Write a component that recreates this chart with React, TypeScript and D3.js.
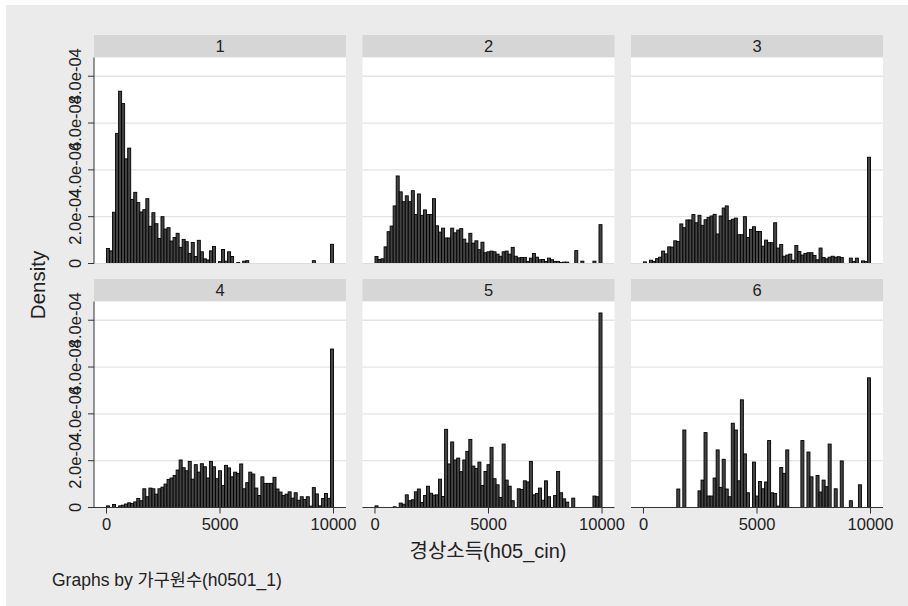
import React from "react";
import * as d3 from "d3";

// ---- data (density in units of 1e-4), 75 equal bins over 0..10000 ----
const panelLabels = ["1", "2", "3", "4", "5", "6"];
const binCount = 75;
const xMinVal = 0;
const xMaxVal = 10000;

const dens1 = [
  0.64, 0.54, 2.19, 5.56, 7.36, 6.83, 4.47, 4.93, 2.74, 3.04,
  2.6, 2.2, 2.3, 2.77, 1.59, 2.17, 1.7, 1.07, 2.0, 1.47,
  1.53, 0.96, 1.11, 1.29, 0.69, 1.03, 0.93, 0.43, 0.9, 0.3,
  0.99, 0.5, 0.2, 0.15, 0.54, 0.73, 0, 0.08, 0.6, 0.1,
  0.5, 0.3, 0, 0.04, 0, 0.1, 0.12, 0, 0, 0,
  0, 0, 0, 0, 0, 0, 0, 0, 0, 0,
  0, 0, 0, 0, 0, 0, 0, 0, 0.12, 0,
  0, 0, 0, 0, 0.82,
];
const dens2 = [
  0.3, 0.17, 0.2, 0.71, 1.36, 1.6, 2.46, 3.74, 3.06, 2.64,
  2.89, 2.64, 3.11, 2.09, 2.97, 2.06, 2.29, 2.09, 2.09, 2.77,
  1.61, 1.34, 1.51, 1.09, 1.09, 1.51, 1.31, 1.43, 1.49, 1.04,
  0.87, 1.29, 0.87, 0.97, 0.59, 0.91, 0.46, 0.5, 0.53, 0.5,
  0.4, 0.31, 0.5, 0.53, 0.4, 0.69, 0.31, 0.24, 0.26, 0.26,
  0.09, 0.23, 0.43, 0.27, 0.16, 0.17, 0.09, 0.23, 0.16, 0.09,
  0.09, 0.04, 0.06, 0.06, 0, 0, 0.55, 0, 0.1, 0,
  0, 0, 0.1, 0, 1.66,
];
const dens3 = [
  0.07, 0, 0.14, 0.09, 0.21, 0.27, 0.53, 0.41, 0.71, 0.7,
  0.97, 0.94, 1.69, 1.53, 1.86, 1.86, 2.09, 1.74, 2.06, 1.63,
  1.87, 1.97, 2.03, 2.1, 1.26, 2.03, 2.37, 2.46, 1.83, 1.89,
  1.94, 1.23, 1.23, 2.0, 1.11, 1.46, 1.57, 1.37, 1.37, 0.74,
  1.0, 0.89, 0.89, 1.74, 0.66, 0.81, 0.31, 0.36, 0.4, 0.14,
  0.77, 0.51, 0.36, 0.43, 0.46, 0.46, 0.34, 0.16, 0.66, 0.26,
  0.2, 0.27, 0.31, 0.27, 0.29, 0.26, 0, 0, 0.23, 0.09,
  0.23, 0, 0.11, 0.09, 4.54,
];
const dens4 = [
  0.07, 0, 0.13, 0, 0.07, 0.1, 0.15, 0.2, 0.17, 0.24,
  0.39, 0.29, 0.8, 0.46, 0.83, 0.8, 0.57, 0.8, 0.87, 1.0,
  1.2, 1.26, 1.37, 1.6, 2.03, 1.7, 1.57, 1.97, 1.21, 1.83,
  1.51, 1.87, 1.74, 1.26, 1.97, 1.74, 1.23, 1.57, 0.94, 1.8,
  1.69, 1.31, 1.51, 1.46, 1.86, 0.8, 1.06, 1.51, 1.43, 0.83,
  0.51, 1.31, 1.03, 1.03, 1.03, 1.29, 0.79, 0.66, 0.51, 0.57,
  0.67, 0.4, 0.63, 0.31, 0.46, 0.34, 0.46, 0.06, 0.85, 0.58,
  0.07, 0.38, 0.6, 0.39, 6.77,
];
const dens5 = [
  0.07, 0, 0, 0, 0, 0, 0.03, 0, 0.19, 0.14,
  0.54, 0.29, 0.33, 0.67, 0.79, 0.21, 0.51, 0.91, 0.61, 0.53,
  0.54, 1.21, 0.47, 3.34, 1.86, 2.8, 2.03, 2.11, 1.53, 2.03,
  2.4, 2.91, 1.77, 1.67, 1.94, 0.94, 1.54, 1.83, 2.57, 1.23,
  0.97, 0.43, 2.71, 1.17, 0.91, 0.29, 0, 0.8, 0.77, 1.14,
  1.09, 1.97, 0.54, 0.6, 0.83, 0.31, 1.14, 0.46, 0, 0.51,
  1.54, 0.63, 0.37, 0.23, 0, 0.4, 0, 0, 0, 0,
  0, 0, 0.49, 0.46, 8.31,
];
const dens6 = [
  0, 0, 0, 0, 0, 0, 0, 0, 0, 0,
  0, 0.79, 0, 3.31, 0, 0, 0, 0, 0.71, 1.17,
  3.2, 0.49, 0.49, 1.26, 2.46, 0.86, 2.06, 0.79, 0.46, 3.6,
  3.31, 1.14, 4.6, 2.29, 0.63, 0, 1.94, 0.49, 1.11, 0.8,
  1.09, 2.86, 0.63, 0.6, 0.06, 1.71, 1.46, 2.46, 0, 0,
  0, 0, 2.86, 0, 2.37, 1.31, 0, 1.37, 0.66, 1.17,
  0.89, 2.71, 0, 0.8, 0, 1.99, 0, 0, 0.29, 0,
  0, 0.97, 0, 0, 5.54,
];
const densities = [dens1, dens2, dens3, dens4, dens5, dens6];
const densUnit = 1e-4;

const yTicks = [0, 2e-4, 4e-4, 6e-4, 8e-4];
const yTickLabels = ["0", "2.0e-04", "4.0e-04", "6.0e-04", "8.0e-04"];
const xTicks = [0, 5000, 10000];
const xTickLabels = ["0", "5000", "10000"];

const yTitle = "Density";
const xTitle = "경상소득(h05_cin)";
const note = "Graphs by 가구원수(h0501_1)";

// ---- layout ----
const W = 908;
const H = 606;
const colX = [94, 362.5, 631];
const rowTop = [35, 279];
const panelW = 252;
const stripH = 22.5;
const plotH = 206;
const FONT = "'Liberation Sans', Arial, 'Noto Sans CJK KR', sans-serif";

export default function App() {
  const x = d3.scaleLinear().domain([-550, 10550]).range([0, panelW]);
  const y = d3.scaleLinear().domain([0, 8.8e-4]).range([plotH, 0]);
  const binW = (xMaxVal - xMinVal) / binCount;

  return (
    <svg
      width={W}
      height={H}
      style={{ position: "absolute", left: 0, top: 0, display: "block" }}
      fontFamily={FONT}
    >
      <rect x={0} y={0} width={W} height={H} fill="#ffffff" />
      <rect x={6} y={5} width={W - 6} height={H - 5} fill="#ebebeb" />
      {panelLabels.map((lab, p) => {
        const r = Math.floor(p / 3);
        const c = p % 3;
        const px = colX[c];
        const sy = rowTop[r];
        const py = sy + stripH;
        const vals = densities[p];
        return (
          <g key={lab}>
            <rect x={px} y={sy} width={panelW} height={stripH} fill="#d6d6d6" />
            <text
              x={px + panelW / 2}
              y={sy + stripH / 2 + 6}
              textAnchor="middle"
              fontSize={16.5}
              fill="#222"
            >
              {lab}
            </text>
            <g transform={`translate(${px},${py})`}>
              <rect x={0} y={0} width={panelW} height={plotH} fill="#ffffff" />
              {yTicks.slice(1).map((t) => (
                <line
                  key={t}
                  x1={0}
                  x2={panelW}
                  y1={y(t)}
                  y2={y(t)}
                  stroke="#e4e4e4"
                  strokeWidth={1.3}
                />
              ))}
              {vals.map((v, i) =>
                v > 0 ? (
                  <rect
                    key={i}
                    x={x(xMinVal + i * binW)}
                    y={y(v * densUnit)}
                    width={x(xMinVal + (i + 1) * binW) - x(xMinVal + i * binW)}
                    height={plotH - y(v * densUnit)}
                    fill="#444444"
                    stroke="#000000"
                    strokeWidth={0.9}
                  />
                ) : null
              )}
              <line
                x1={0}
                x2={panelW}
                y1={plotH}
                y2={plotH}
                stroke={r === 1 ? "#333" : "#dcdcdc"}
                strokeWidth={1}
              />
              {r === 1 &&
                xTicks.map((t, k) => (
                  <g key={t} transform={`translate(${x(t)},${plotH})`}>
                    <line y1={0} y2={6} stroke="#333" />
                    <text y={22.5} textAnchor="middle" fontSize={16.5} fill="#222">
                      {xTickLabels[k]}
                    </text>
                  </g>
                ))}
              {c === 0 && (
                <g>
                  <line x1={0} x2={0} y1={0} y2={plotH} stroke="#333" />
                  {yTicks.map((t, k) => (
                    <g key={t} transform={`translate(0,${y(t)})`}>
                      <line x1={-6} x2={0} stroke="#333" />
                      <text
                        transform="translate(-13,0) rotate(-90)"
                        textAnchor="middle"
                        fontSize={16.5}
                        fill="#222"
                      >
                        {yTickLabels[k]}
                      </text>
                    </g>
                  ))}
                </g>
              )}
            </g>
          </g>
        );
      })}
      <text
        transform="translate(45,285) rotate(-90)"
        textAnchor="middle"
        fontSize={20.5}
        fill="#222"
      >
        {yTitle}
      </text>
      <text x={488} y={558} textAnchor="middle" fontSize={20} fill="#222">
        {xTitle}
      </text>
      <text x={52} y={586} fontSize={17.5} fill="#222">
        {note}
      </text>
    </svg>
  );
}
